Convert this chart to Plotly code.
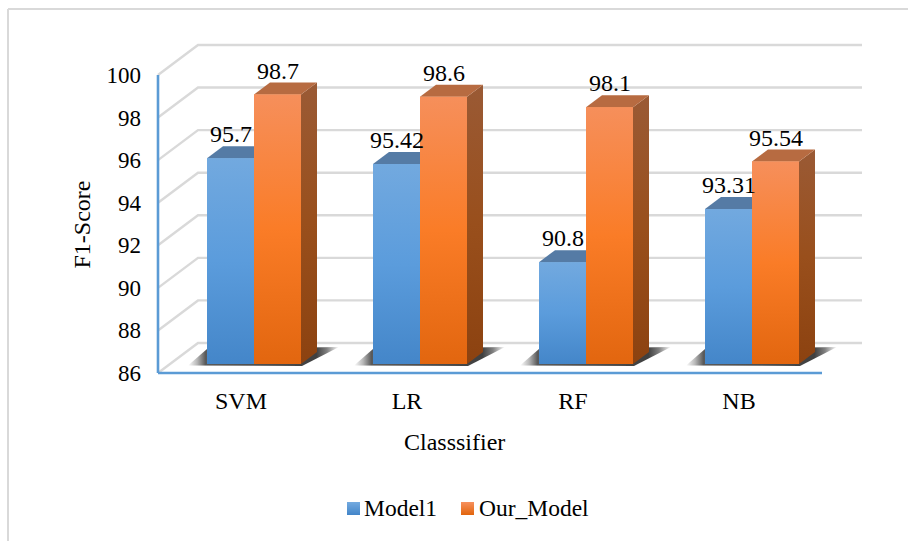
import plotly.graph_objects as go

categories = ["SVM", "LR", "RF", "NB"]
model1 = [95.7, 95.42, 90.8, 93.31]
our_model = [98.7, 98.6, 98.1, 95.54]
y_ticks = [86, 88, 90, 92, 94, 96, 98, 100]

W, H = 908, 541
L, R, T, B = 152, 870, 40, 379      # plot box in page pixels (a little larger than the drawn box)
FRONT_L, FLOOR_Y = 158, 373         # pixel of the front left corner (category edge, value 86)
PX_X = 166.0                        # pixels per category
PX_Y = 21.29                        # pixels per value unit on the walls
PX_Y_BAR = 21.22                    # pixels per value unit for the boxes
X0 = 241.0                          # pixel of category 0 on the front plane
WALL_DX, WALL_DY = 40 / PX_X, 30 / PX_Y
BAR_SHIFT_X, BAR_SHIFT_Y = 13, 9    # bars stand this far inside the floor
DEPTH_X, DEPTH_Y = 16 / PX_X, 12 / PX_Y_BAR
BAR_W = 47 / PX_X
FONT = "Liberation Serif"
GRID = "#d9d9d9"
AXIS = "#5b9bd5"

x_range = [(L - X0) / PX_X, (R - X0) / PX_X]
y_range = [86 - (B - FLOOR_Y) / PX_Y, 86 + (FLOOR_Y - T) / PX_Y]
x2_range = [x_range[0] - BAR_SHIFT_X / PX_X, x_range[1] - BAR_SHIFT_X / PX_X]
bar_floor = FLOOR_Y - BAR_SHIFT_Y
y2_range = [86, 86 + (bar_floor - T) / PX_Y_BAR]

STYLE = {
    "Model1": dict(
        bar="#5b9bd5",
        front=[[0, "#4486c9"], [0.5, "#5b9cdc"], [1, "#72a9df"]],
        side=[[0, "#2f5f8f"], [1, "#44709c"]],
        top="#557ba5",
    ),
    "Our_Model": dict(
        bar="#f67d29",
        front=[[0, "#e2660f"], [0.5, "#fa7c27"], [1, "#f68f5b"]],
        side=[[0, "#8c4210"], [0.5, "#994f1c"], [1, "#9a5a35"]],
        top="#b76b41",
    ),
}

fig = go.Figure()


def line(xs, ys, color, width):
    fig.add_trace(go.Scatter(x=xs, y=ys, mode="lines",
                             line=dict(color=color, width=width),
                             hoverinfo="skip", showlegend=False))


def poly(xs, ys, xa="x2", ya="y2", solid=None, scale=None, kind="vertical"):
    kw = dict(fillcolor=solid) if solid else dict(
        fillgradient=dict(type=kind, colorscale=scale))
    fig.add_trace(go.Scatter(x=xs + xs[:1], y=ys + ys[:1], mode="lines", xaxis=xa, yaxis=ya,
                             fill="toself", line=dict(width=0), hoverinfo="skip",
                             showlegend=False, **kw))


# walls and floor
left = (FRONT_L - X0) / PX_X
right = left + len(categories)
gx, gy = [], []
for v in y_ticks:
    gx += [left, left + WALL_DX, right + WALL_DX, None]
    gy += [v, v + WALL_DY, v + WALL_DY, None]
line(gx, gy, GRID, 2.4)
line([left, right], [86, 86], AXIS, 2.6)
line([left, left], [86, 100], AXIS, 2.6)

# floor shadows
shadow_scale = [[0, "#ffffff"], [0.06, "#b8b8b8"], [0.115, "#5a5a5a"], [0.85, "#404040"],
                [0.92, "#808080"], [1, "#ffffff"]]
for i in range(len(categories)):
    c = i + BAR_SHIFT_X / PX_X
    f = 86 + BAR_SHIFT_Y / PX_Y
    poly([c - 66 / PX_X, c - 47 / PX_X, c + 85 / PX_X, c + 48 / PX_X],
         [f - 1.5 / PX_Y, f + 15 / PX_Y, f + 17 / PX_Y, f - 2 / PX_Y],
         xa="x", ya="y", scale=shadow_scale, kind="horizontal")

# bars
for name, vals in (("Model1", model1), ("Our_Model", our_model)):
    fig.add_trace(go.Bar(name=name, x=list(range(len(categories))), y=vals, xaxis="x2", yaxis="y2",
                         marker=dict(color=STYLE[name]["bar"], line=dict(width=0)),
                         hoverinfo="skip"))

# box faces
for name, vals, off in (("Model1", model1, -BAR_W), ("Our_Model", our_model, 0.0)):
    s = STYLE[name]
    for i, v in enumerate(vals):
        a, b = i + off, i + off + BAR_W
        poly([b, b + DEPTH_X, b + DEPTH_X, b], [86, 86 + DEPTH_Y, v + DEPTH_Y, v], scale=s["side"])
        poly([a, b, b + DEPTH_X, a + DEPTH_X], [v, v, v + DEPTH_Y, v + DEPTH_Y], solid=s["top"])
        poly([a, b, b, a], [86, 86, v, v], scale=s["front"])


def px(x):
    return (x - L) / (R - L)


def py(y):
    return (B - y) / (B - T)


TXT = dict(family=FONT, size=24, color="#000")
LEG = dict(family=FONT, size=23.5, color="#000")
annotations = []
for vals, off in ((model1, -BAR_W / 2), (our_model, BAR_W / 2)):
    for i, v in enumerate(vals):
        annotations.append(dict(x=i + off, y=v, xref="x2", yref="y2", text=str(v), showarrow=False,
                                yshift=24, xanchor="center", yanchor="middle", font=TXT))
annotations.append(dict(x=px(454), y=py(442), xref="paper", yref="paper", text="Classsifier",
                        showarrow=False, xanchor="center", yanchor="middle", font=TXT))
annotations.append(dict(x=px(81.5), y=py(225), xref="paper", yref="paper", text="F1-Score",
                        showarrow=False, textangle=-90, xanchor="center", yanchor="middle", font=TXT))
annotations.append(dict(x=px(362), y=py(508), xref="paper", yref="paper", text="Model1",
                        showarrow=False, xanchor="left", yanchor="middle", font=LEG))
annotations.append(dict(x=px(477), y=py(508), xref="paper", yref="paper", text="Our_Model",
                        showarrow=False, xanchor="left", yanchor="middle", font=LEG))

shapes = [
    dict(type="line", xref="paper", yref="paper", x0=px(8), x1=px(W), y0=py(9), y1=py(9),
         line=dict(color=GRID, width=2)),
    dict(type="line", xref="paper", yref="paper", x0=px(8), x1=px(8), y0=py(9), y1=py(H),
         line=dict(color=GRID, width=2)),
]
# legend keys, shaded row by row
for start, top_c, bot_c in ((347, (114, 169, 223), (68, 134, 201)), (461, (246, 143, 91), (226, 102, 15))):
    for r in range(13):
        t = r / 12
        c = tuple(round(top_c[k] + (bot_c[k] - top_c[k]) * t) for k in range(3))
        shapes.append(dict(type="rect", xref="paper", yref="paper", x0=px(start), x1=px(start + 13),
                           y0=py(502 + r), y1=py(503 + r), line=dict(width=0),
                           fillcolor="rgb(%d,%d,%d)" % c))

fig.update_layout(
    width=W, height=H, autosize=False,
    margin=dict(l=L, r=W - R, t=T, b=H - B, autoexpand=False),
    paper_bgcolor="white", plot_bgcolor="rgba(0,0,0,0)",
    showlegend=False, barmode="group", bargap=1 - 2 * BAR_W, bargroupgap=0,
    annotations=annotations, shapes=shapes,
    xaxis=dict(range=x_range, domain=[0, 1], tickmode="array", tickvals=list(range(len(categories))),
               ticktext=categories, showgrid=False, zeroline=False, showline=False, ticks="",
               ticklabelstandoff=5, tickfont=TXT),
    yaxis=dict(range=y_range, domain=[0, 1], tickmode="array", tickvals=y_ticks, showgrid=False,
               zeroline=False, showline=False, ticks="", ticklabelstandoff=10,
               tickfont=dict(family=FONT, size=23, color="#000")),
    xaxis2=dict(range=x2_range, domain=[0, 1], anchor="y2", visible=False),
    yaxis2=dict(range=y2_range, domain=[(B - bar_floor) / (B - T), 1], anchor="x2", visible=False),
)
fig.write_html("out.html", config=dict(displayModeBar=False),
               post_script="document.body.style.margin='0';document.body.style.overflow='hidden';")
